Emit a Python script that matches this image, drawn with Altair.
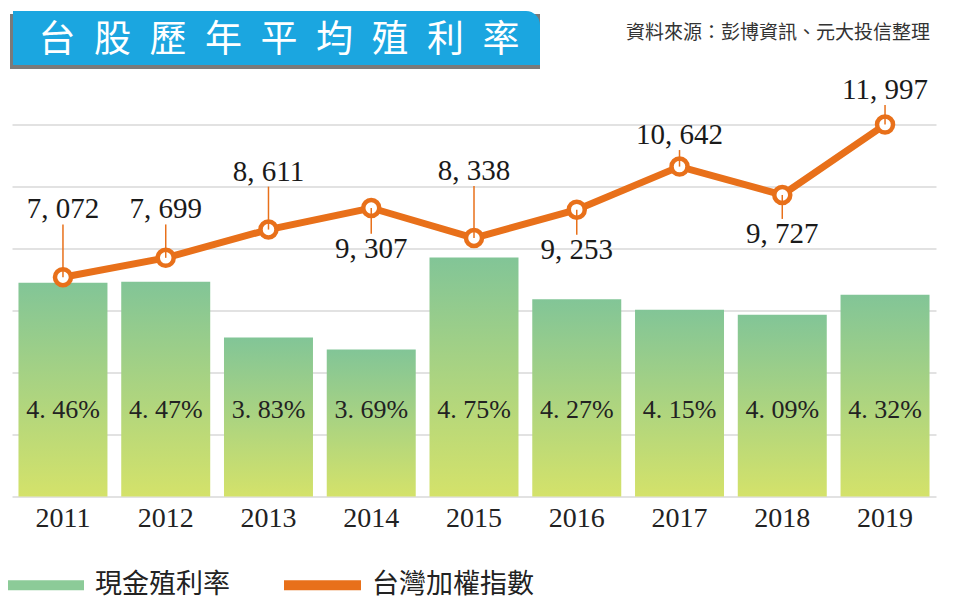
import altair as alt
import pandas as pd

# ---------------- data ----------------
years = ["2011", "2012", "2013", "2014", "2015", "2016", "2017", "2018", "2019"]
cash_yield = [4.46, 4.47, 3.83, 3.69, 4.75, 4.27, 4.15, 4.09, 4.32]
taiex = [7072, 7699, 8611, 9307, 8338, 9253, 10642, 9727, 11997]
# level (index units) at which each index annotation sits
label_level = [9260, 9260, 10480, 7990, 10500, 7960, 11660, 8470, 13110]
series_names = ["現金殖利率", "台灣加權指數"]
title_text = "台股歷年平均殖利率"
source_text = "資料來源：彭博資訊、元大投信整理"

# ---------------- styles ----------------
GREEN_TOP = "#82C597"
GREEN_BOTTOM = "#D4E26A"
LEGEND_GREEN = "#8CCB98"
ORANGE = "#E8701A"
BLUE = "#1BA6E0"
GRID = "#D9D9D9"
NUM_FONT = "Liberation Serif"
CJK_FONT = "Noto Sans CJK TC"

df = pd.DataFrame({
    "year": years,
    "yield": cash_yield,
    "taiex": taiex,
    "label_level": label_level,
})
df["yield_label"] = [f"{v:.2f}%".replace(".", ". ") for v in cash_yield]
df["taiex_label"] = [f"{v:,}".replace(",", ", ") for v in taiex]
df["series"] = series_names[1]
df["above"] = df["label_level"] > df["taiex"]

x_enc = alt.X(
    "year:O",
    scale=alt.Scale(paddingInner=0.134, paddingOuter=0.063),
    axis=alt.Axis(
        title=None, labelAngle=0, domain=False, ticks=False, grid=False,
        labelFont=NUM_FONT, labelFontSize=28, labelColor="#222222", labelPadding=8,
    ),
)

bar_scale = alt.Scale(domain=[2, 6.28], zero=False, nice=False)

bars = alt.Chart(df).mark_bar(
    color=alt.Gradient(
        gradient="linear",
        stops=[alt.GradientStop(offset=0, color=GREEN_TOP),
               alt.GradientStop(offset=1, color=GREEN_BOTTOM)],
        x1=0, x2=0, y1=0, y2=1,
    )
).encode(
    x=x_enc,
    y=alt.Y("yield:Q", scale=bar_scale, axis=None),
    y2=alt.datum(2),
)

pct_text = alt.Chart(df).mark_text(
    font=NUM_FONT, fontSize=26, color="#222222", baseline="middle", align="center"
).encode(
    x=x_enc,
    y=alt.YDatum(3, axis=None),
    text="yield_label:N",
)

bar_layer = alt.layer(bars, pct_text)

y_line = alt.Y(
    "taiex:Q",
    scale=alt.Scale(domain=[0, 12000], nice=False, zero=True),
    axis=alt.Axis(
        values=[0, 2000, 4000, 6000, 8000, 10000, 12000], grid=True, labels=False,
        ticks=False, domain=False, title=None, gridColor=GRID, gridWidth=1.5,
    ),
)

line = alt.Chart(df).mark_line(strokeWidth=7).encode(
    x=x_enc,
    y=y_line,
    color=alt.Color(
        "series:N",
        scale=alt.Scale(domain=series_names, range=[LEGEND_GREEN, ORANGE]),
        legend=alt.Legend(
            title=None, orient="none", legendX=-10, legendY=417, direction="horizontal",
            symbolType="stroke", symbolSize=5929, symbolStrokeWidth=10,
            labelFont=CJK_FONT, labelFontSize=27, labelColor="#222222",
            labelOffset=6, labelLimit=0, columnPadding=34, padding=0, symbolOpacity=1,
        ),
    ),
)

points = alt.Chart(df).mark_circle(
    fill="white", stroke=ORANGE, strokeWidth=4.5, size=256, opacity=1
).encode(x=x_enc, y=alt.Y("taiex:Q"))

lead_up = alt.Chart(df).transform_filter("datum.above").mark_rule(
    color=ORANGE, strokeWidth=1.5, y2Offset=15
).encode(x=x_enc, y=alt.Y("taiex:Q"), y2="label_level:Q")

lead_down = alt.Chart(df).transform_filter("!datum.above").mark_rule(
    color=ORANGE, strokeWidth=1.5, y2Offset=-15
).encode(x=x_enc, y=alt.Y("taiex:Q"), y2="label_level:Q")

idx_labels = alt.Chart(df).mark_text(
    font=NUM_FONT, fontSize=29, color="#1A1A1A", baseline="middle", align="center"
).encode(x=x_enc, y=alt.Y("label_level:Q"), text="taiex_label:N")

line_layer = alt.layer(line, points, lead_up, lead_down, idx_labels)

# ---------------- header decorations ----------------
one = alt.Data(values=[{}])
shadow = alt.Chart(one).mark_rect(color="#7A7A7A").encode(
    x=alt.value(-2), x2=alt.value(528), y=alt.value(-110.5), y2=alt.value(-55.5)
)
title_box = alt.Chart(one).mark_rect(color=BLUE, cornerRadiusTopRight=14).encode(
    x=alt.value(1), x2=alt.value(528), y=alt.value(-113.5), y2=alt.value(-59.5)
)
title_mark = alt.Chart(one).mark_text(
    text="\u2002".join(title_text), font=CJK_FONT, fontSize=37, color="white",
    align="center", baseline="middle",
).encode(x=alt.value(267), y=alt.value(-84))
source_mark = alt.Chart(one).mark_text(
    text=source_text, font=CJK_FONT, fontSize=19, color="#333333",
    align="right", baseline="middle",
).encode(x=alt.value(918), y=alt.value(-92))

chart = alt.layer(
    shadow, title_box, title_mark, source_mark, bar_layer, line_layer
).resolve_scale(y="independent").properties(
    width=924,
    height=372,
    autosize=alt.AutoSizeParams(type="none"),
    padding={"left": 4, "top": 116.5, "right": 12, "bottom": 105},
    background="white",
).configure_view(stroke=None)

chart.save("out.html", embed_options={"renderer": "svg", "actions": False})
